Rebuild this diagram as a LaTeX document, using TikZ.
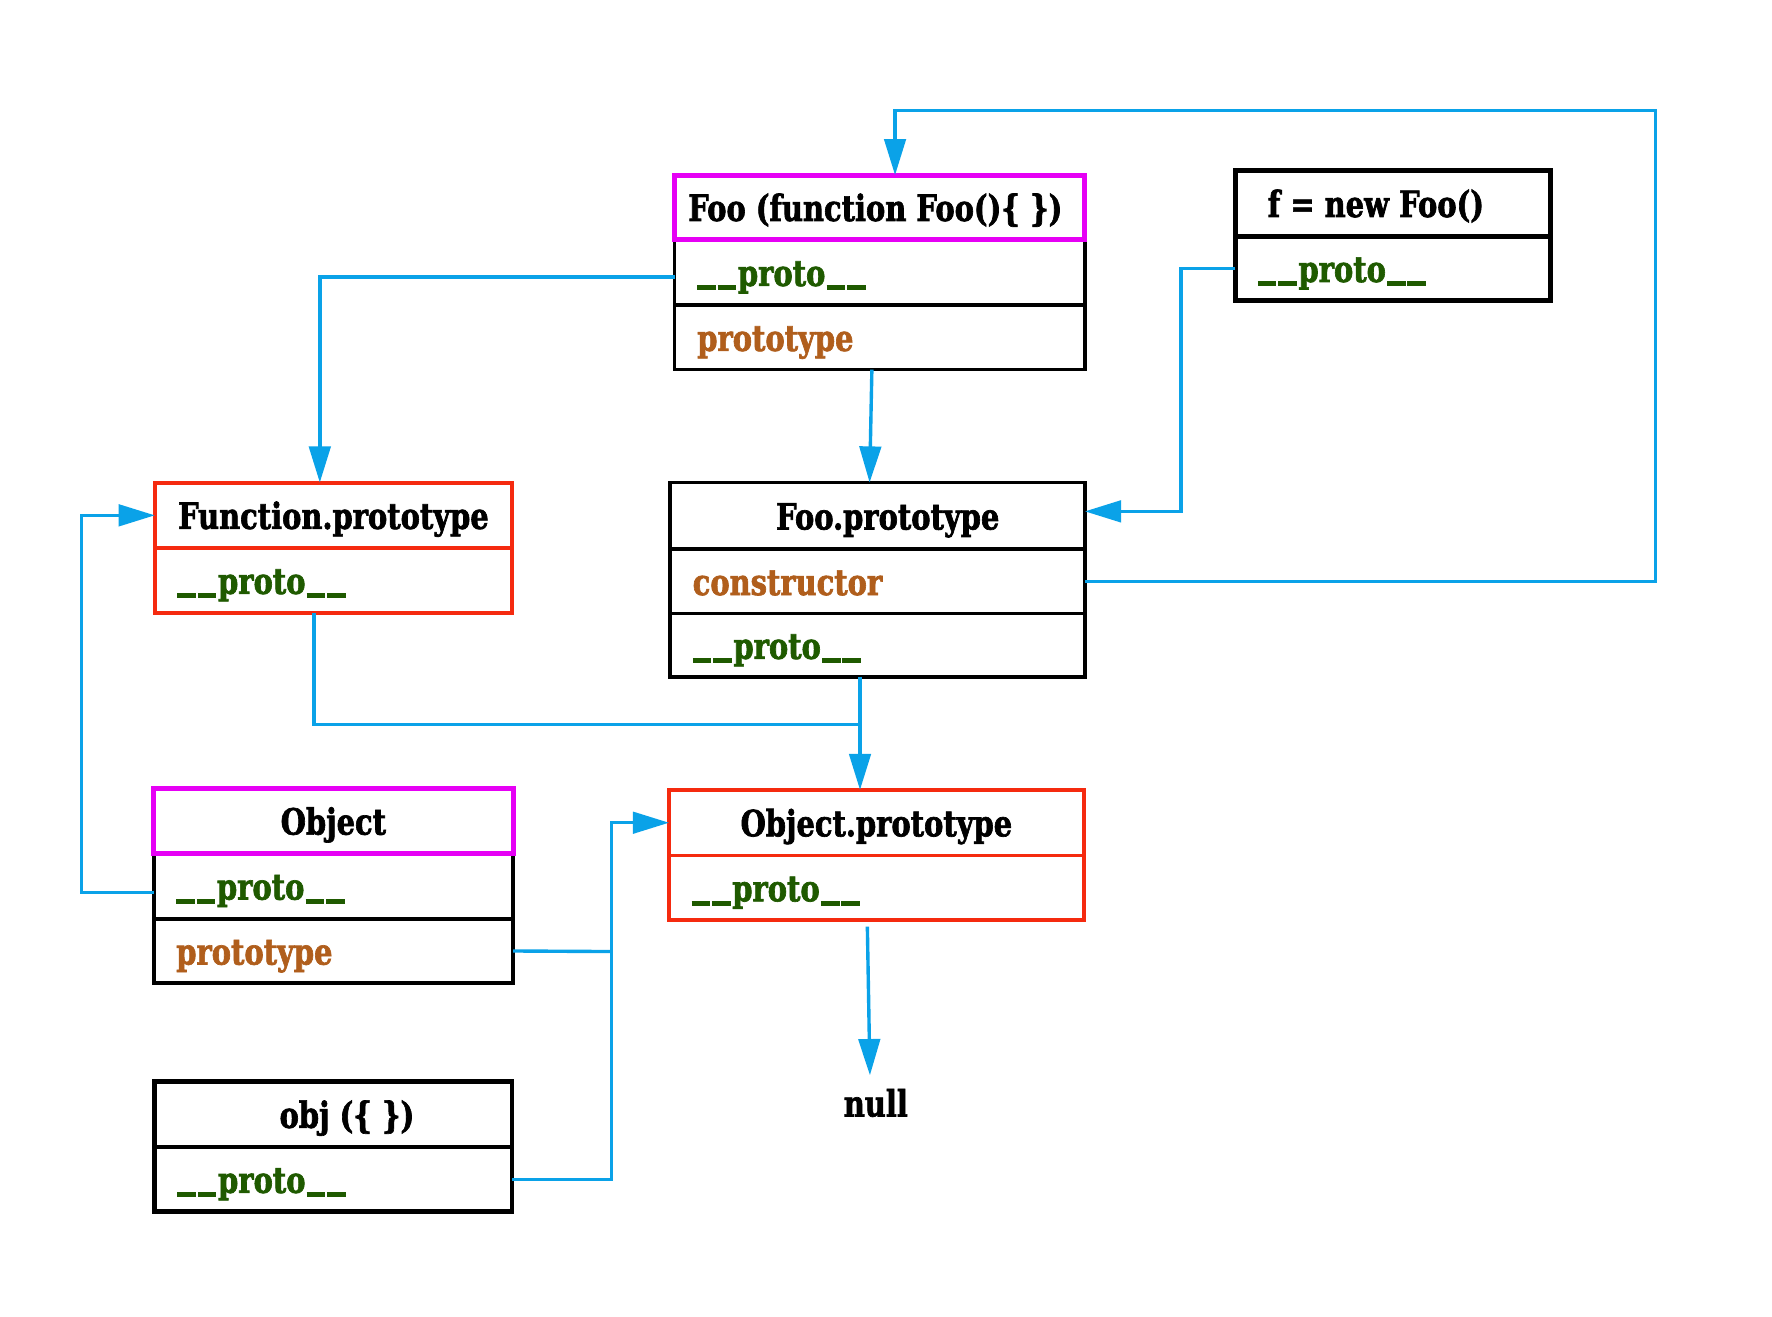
\documentclass[tikz,border=0pt]{standalone}
\usepackage{fontspec}
\setmainfont{DejaVu Serif}[FakeStretch=0.8, BoldFeatures={FakeBold=1.8}]
\usetikzlibrary{arrows.meta,calc}
\definecolor{mag}{HTML}{E600F5}
\definecolor{rd}{HTML}{F52A0F}
\definecolor{bl}{HTML}{0AA2E8}
\definecolor{gr}{HTML}{1F5A00}
\definecolor{br}{HTML}{B05E1C}
\newcommand\ubar{\rule[-4pt]{16.5pt}{4.5pt}\hspace{1.5pt}}
\newcommand\protolbl{\textcolor{gr}{\ubar\ubar proto\hspace{1pt}\ubar\ubar}}
\begin{document}
\begin{tikzpicture}[x=1pt,y=-1pt,
  font=\fontsize{32}{36}\selectfont\bfseries,
  box/.style={draw=black, line width=3.2pt, inner ysep=0pt, anchor=north west, outer sep=0pt, text height=26pt, text depth=2pt},
  ttl/.style={box, inner xsep=0pt},
  fld/.style={box, inner xsep=20pt, align=left},
  magbox/.style={draw=mag, line width=4.5pt},
  redbox/.style={draw=rd, line width=3.5pt},
  thk/.style={line width=4.2pt},
  conn/.style={draw=bl, line width=3pt},
  arr/.style={conn, -{Triangle[length=32pt,width=19pt]}}]
\useasboundingbox (0,0) rectangle (1568,1164.5);
\fill[white] (0,0) rectangle (1568,1164.5);
% Foo
\node[fld, text width=323pt, minimum height=58pt] (fooproto) at (597,212) {\protolbl};
\node[fld, text width=323pt, minimum height=57pt] (fooptype) at (597,270) {\textcolor{br}{prototype}};
\node[ttl, magbox, minimum width=363pt, minimum height=57pt] (footitle) at (597,155) {\hspace*{-8pt}Foo (function Foo()\{ \})};
% f = new Foo()
\node[fld, thk, text width=239pt, minimum height=57pt] (fproto) at (1093,209) {\protolbl};
\node[ttl, thk, minimum width=279pt, minimum height=58pt] (ftitle) at (1093,151) {\hspace*{-30pt}f = new Foo()};
% Function.prototype
\node[fld, redbox, text width=276pt, minimum height=57pt] (funcproto) at (137,485) {\protolbl};
\node[ttl, redbox, minimum width=316pt, minimum height=58pt] (functitle) at (137,427) {Function.prototype};
% Foo.prototype
\node[ttl, minimum width=367pt, minimum height=59pt] (fptitle) at (593,427) {\hspace*{18pt}Foo.prototype};
\node[fld, text width=327pt, minimum height=57pt] (fpctor) at (593,486) {\textcolor{br}{constructor}};
\node[fld, text width=327pt, minimum height=56pt] (fpproto) at (593,543) {\protolbl};
% Object
\node[fld, text width=278pt, minimum height=58pt] (objproto) at (136,755) {\protolbl};
\node[fld, text width=278pt, minimum height=57pt] (objptype) at (136,813) {\textcolor{br}{prototype}};
\node[ttl, magbox, minimum width=318pt, minimum height=57pt] (objtitle) at (136,698) {Object};
% Object.prototype
\node[fld, redbox, text width=327pt, minimum height=57pt] (opproto) at (592,757) {\protolbl};
\node[ttl, redbox, minimum width=367pt, minimum height=58pt] (optitle) at (592,699) {Object.prototype};
% obj
\node[fld, thk, text width=276pt, minimum height=57pt] (oproto) at (137,1015) {\protolbl};
\node[ttl, thk, minimum width=316pt, minimum height=58pt] (otitle) at (137,957) {\hspace*{24pt}obj (\{ \})};
% null
\node[inner sep=0pt] (nullv) at (775,976) {null};
% connectors
\coordinate (c1) at (1465,98);
\coordinate (j1) at (761,641);
\coordinate (j2) at (541,842);
\draw[arr] (fpctor.east) -| (c1) -| ([xshift=13.5pt]footitle.north);
\draw[arr] ([yshift=-4pt]fooproto.west) -| ([xshift=-12pt]functitle.north);
\draw[arr] ([xshift=-7pt]fooptype.south) -- ([xshift=-7pt]fptitle.north);
\draw[arr] (fproto.west) -- ++(-48,0) |- ([yshift=4pt]fptitle.east);
\draw[conn] ([xshift=-17pt]funcproto.south) |- (j1);
\draw[arr] ([xshift=-15.5pt]fpproto.south) -- ([xshift=-14.5pt]optitle.north);
\draw[arr] ([yshift=-6pt]objproto.west) -- ++(-64,0) |- (functitle.west);
\draw[conn] (objptype.east) -- (j2);
\draw[arr] (oproto.east) -| ([xshift=-51pt]optitle.west) -- (optitle.west);
\draw[arr, shorten >=12pt] ([xshift=-8pt,yshift=-6pt]opproto.south) -- ([xshift=-5pt]nullv.north);
\end{tikzpicture}
\end{document}
